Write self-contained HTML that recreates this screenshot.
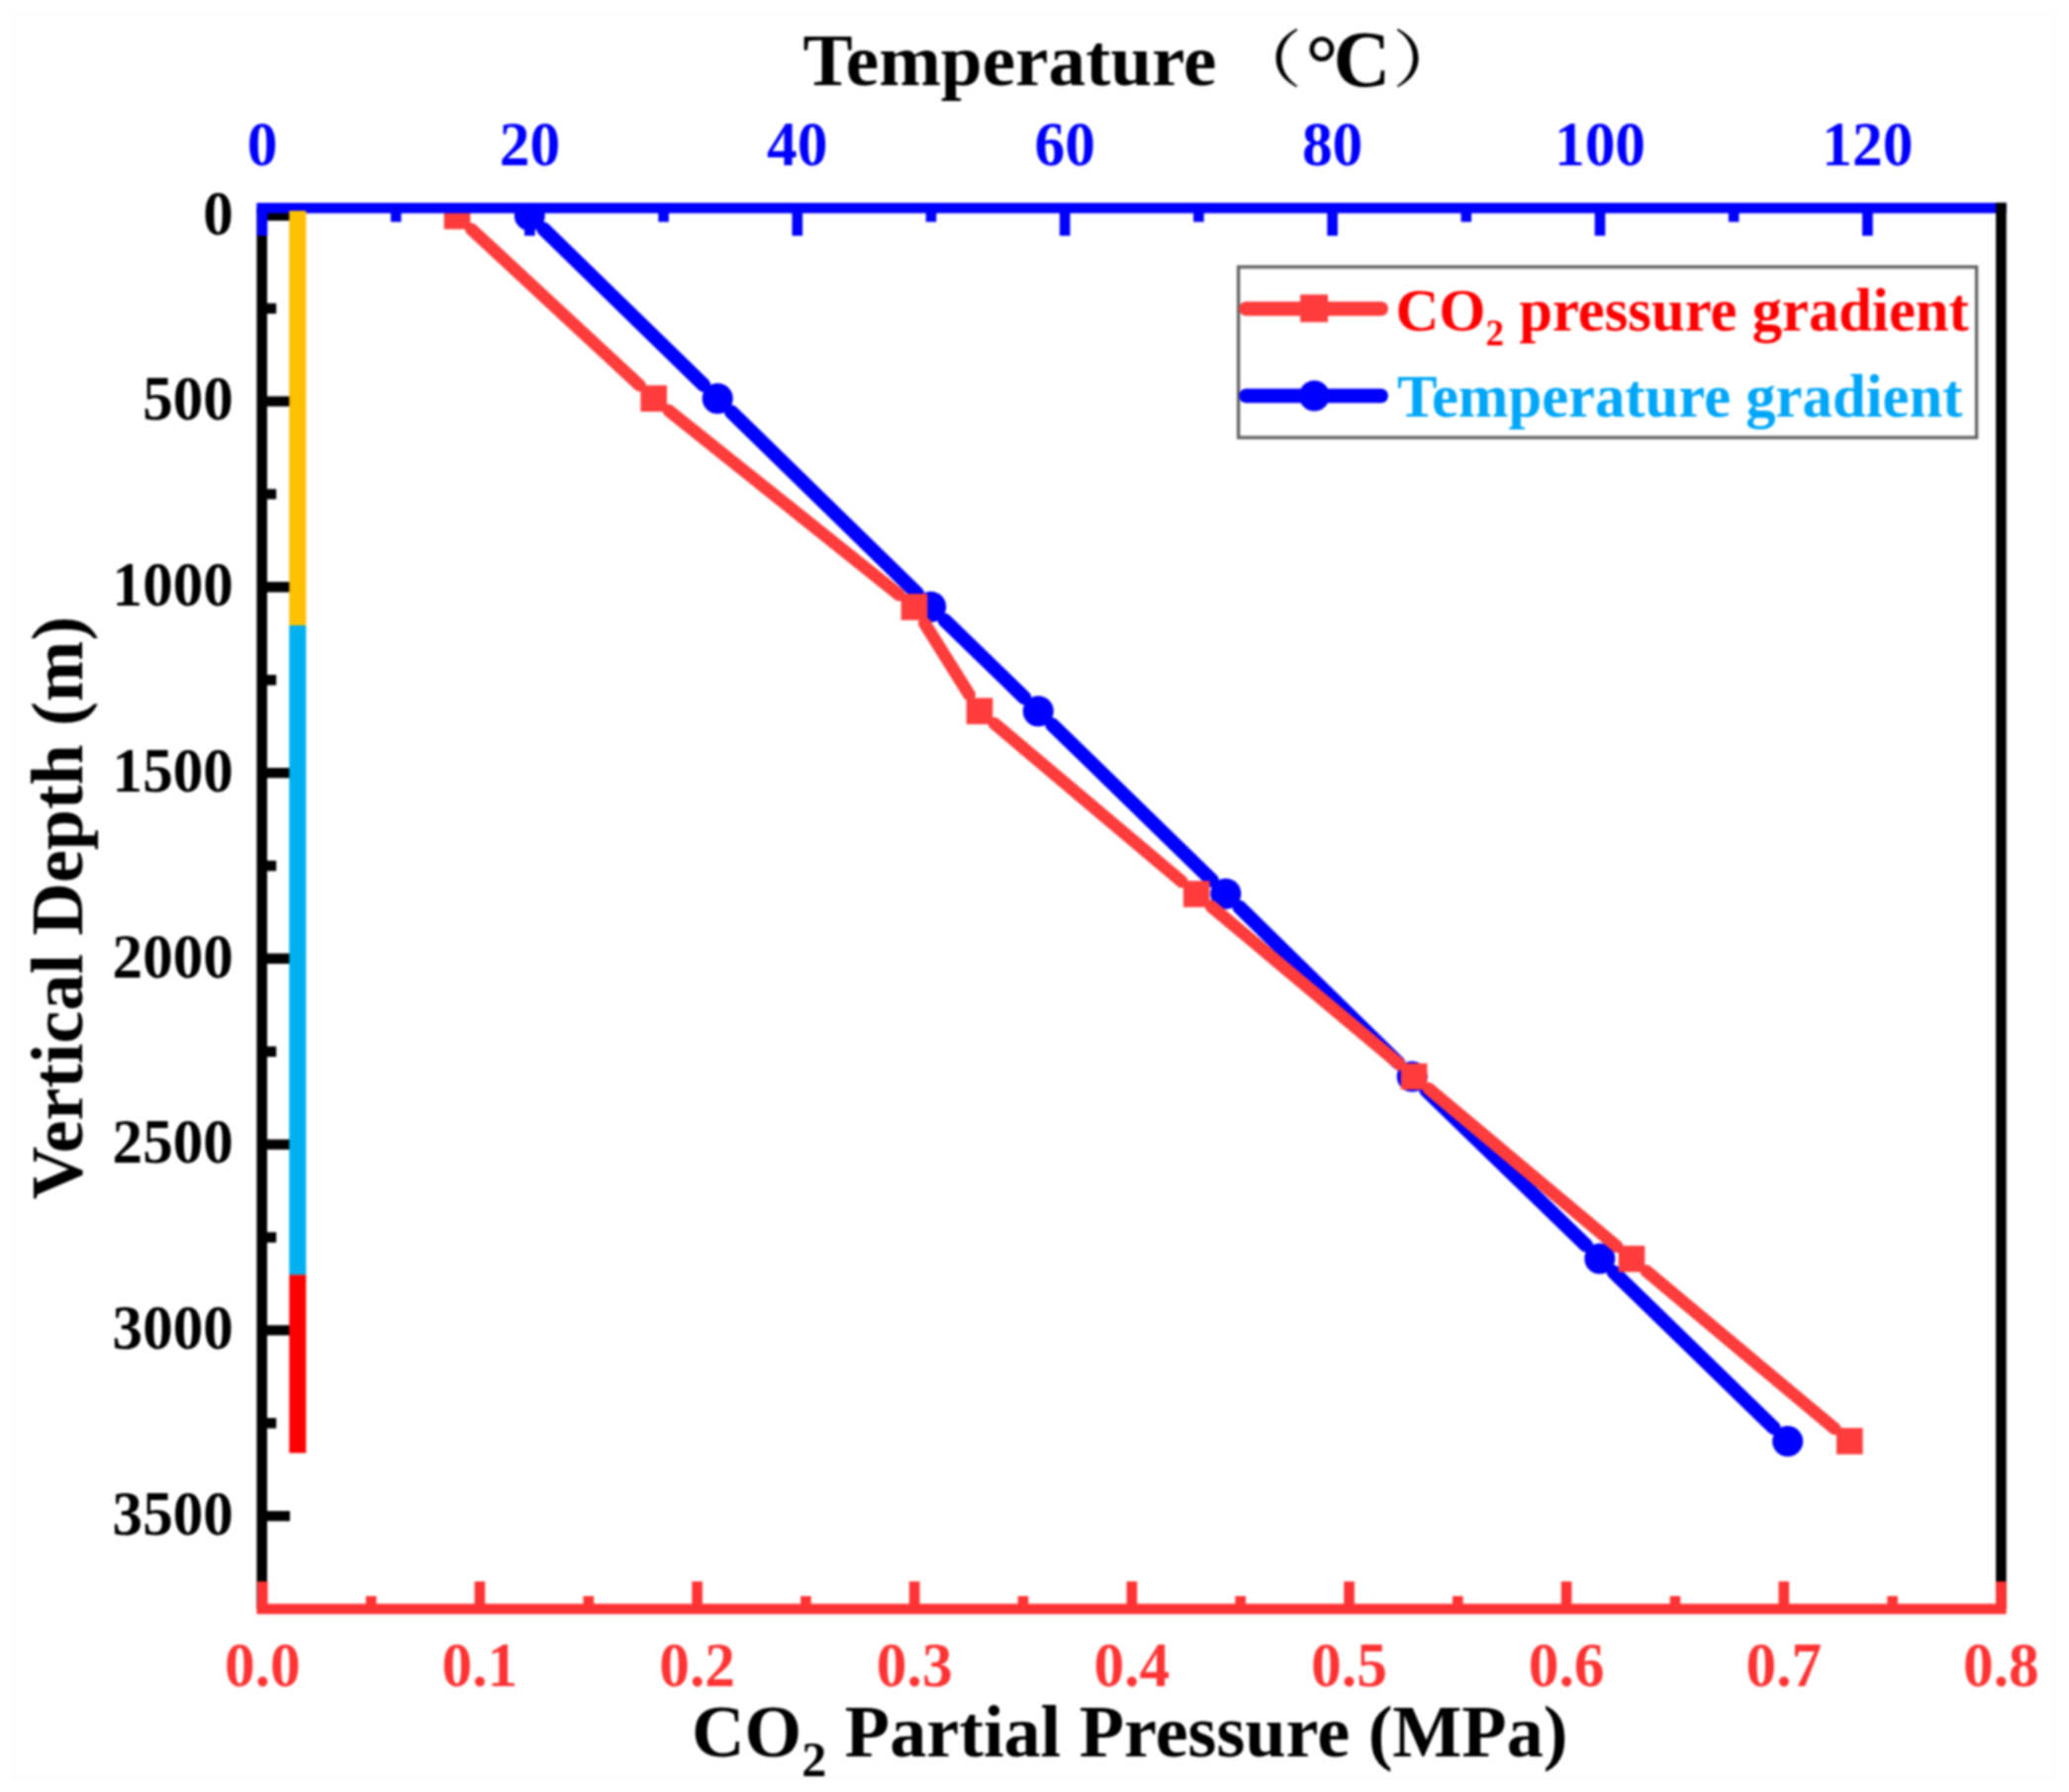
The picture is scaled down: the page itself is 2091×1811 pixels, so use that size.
<!DOCTYPE html>
<html lang="en"><head><meta charset="utf-8"><title>CO2 partial pressure and temperature gradient</title>
<style>html,body{margin:0;padding:0;background:#fff}body{width:2091px;height:1811px;overflow:hidden}svg{display:block;filter:blur(1.1px)}text{font-family:"Liberation Serif","Noto Serif CJK SC",serif;font-weight:bold}.tk{font-size:63px}.lg{font-size:60.7px}.ti{font-size:74px}</style></head><body>
<svg width="2091" height="1811" viewBox="0 0 2091 1811">
<rect width="2091" height="1811" fill="#fff"/>
<rect x="14" y="15" width="2062" height="1782" fill="none" stroke="#fcfcfc" stroke-width="2"/>
<defs><clipPath id="cp"><rect x="264.7" y="210.2" width="1757.7" height="1415.8"/></clipPath></defs>
<g clip-path="url(#cp)">
<path d="M549.3 231.4L711.2 389.1M739.1 416.3L926.8 599.7M954.7 626.9L1035.3 705.1M1063.3 732.3L1224.8 889.6M1252.7 916.9L1413.3 1074.3M1441.2 1101.6L1602.8 1258.4M1630.8 1285.6L1792.7 1443.0" fill="none" stroke="#0000FF" stroke-width="14.2" stroke-linecap="round"/>
<circle cx="535.3" cy="217.8" r="15.5" fill="#0000FF"/>
<circle cx="725.2" cy="402.7" r="15.5" fill="#0000FF"/>
<circle cx="940.7" cy="613.3" r="15.5" fill="#0000FF"/>
<circle cx="1049.3" cy="718.7" r="15.5" fill="#0000FF"/>
<circle cx="1238.8" cy="903.2" r="15.5" fill="#0000FF"/>
<circle cx="1427.2" cy="1088.0" r="15.5" fill="#0000FF"/>
<circle cx="1616.8" cy="1272.0" r="15.5" fill="#0000FF"/>
<circle cx="1806.7" cy="1456.6" r="15.5" fill="#0000FF"/>
<path d="M476.3 231.6L646.4 389.4M675.9 414.9L908.8 601.2M934.4 629.9L979.6 702.1M1004.9 731.2L1194.3 890.9M1224.1 916.0L1414.2 1075.4M1444.0 1100.4L1634.1 1259.7M1664.0 1284.7L1854.3 1443.9" fill="none" stroke="#FF3C3C" stroke-width="12.8" stroke-linecap="round"/>
<rect x="448.7" y="205.0" width="26.6" height="26.6" fill="#FF3C3C"/>
<rect x="647.4" y="389.4" width="26.6" height="26.6" fill="#FF3C3C"/>
<rect x="910.7" y="600.1" width="26.6" height="26.6" fill="#FF3C3C"/>
<rect x="976.7" y="705.3" width="26.6" height="26.6" fill="#FF3C3C"/>
<rect x="1195.9" y="890.2" width="26.6" height="26.6" fill="#FF3C3C"/>
<rect x="1415.8" y="1074.6" width="26.6" height="26.6" fill="#FF3C3C"/>
<rect x="1635.7" y="1258.9" width="26.6" height="26.6" fill="#FF3C3C"/>
<rect x="1856.0" y="1443.1" width="26.6" height="26.6" fill="#FF3C3C"/>
</g>
<g stroke="#000" stroke-width="10.6" fill="none">
<path d="M264.7 210.2V1626.0"/>
<path d="M264.7 217.8H293M264.7 405.6H293M264.7 593.3H293M264.7 781.1H293M264.7 968.8H293M264.7 1156.6H293M264.7 1344.4H293M264.7 1532.1H293M264.7 311.7H279.2M264.7 499.4H279.2M264.7 687.2H279.2M264.7 875.0H279.2M264.7 1062.7H279.2M264.7 1250.5H279.2M264.7 1438.2H279.2" stroke-width="10.4"/>
</g>
<g stroke="#0000FF" stroke-width="10.6" fill="none">
<path d="M259.4 210.2H2027.7"/>
<path d="M265.0 210.2V238.3M535.4 210.2V238.3M805.8 210.2V238.3M1076.2 210.2V238.3M1346.6 210.2V238.3M1617.0 210.2V238.3M1887.4 210.2V238.3M400.2 210.2V224.2M670.6 210.2V224.2M941.0 210.2V224.2M1211.4 210.2V224.2M1481.8 210.2V224.2M1752.2 210.2V224.2"/>
</g>
<path d="M2022.4 204.8V1626.0" stroke="#000" stroke-width="10.6"/>
<g stroke="#FF3333" stroke-width="10.6" fill="none">
<path d="M259.4 1626.0H2027.7"/>
<path d="M265.3 1626.0V1598.3M484.9 1626.0V1598.3M704.6 1626.0V1598.3M924.2 1626.0V1598.3M1143.9 1626.0V1598.3M1363.5 1626.0V1598.3M1583.1 1626.0V1598.3M1802.8 1626.0V1598.3M2022.4 1626.0V1598.3M375.1 1626.0V1613M594.8 1626.0V1613M814.4 1626.0V1613M1034.0 1626.0V1613M1253.7 1626.0V1613M1473.3 1626.0V1613M1693.0 1626.0V1613M1912.6 1626.0V1613"/>
</g>
<rect x="292.3" y="213" width="17" height="419.0" fill="#FFC000"/>
<rect x="292.3" y="632" width="17" height="656.3" fill="#00B0F0"/>
<rect x="292.3" y="1288.3" width="17" height="180.1" fill="#FF0000"/>
<g class="tk" fill="#0000FF" text-anchor="middle">
<text transform="translate(265.0,167) scale(.975,1)">0</text>
<text transform="translate(535.4,167) scale(.975,1)">20</text>
<text transform="translate(805.8,167) scale(.975,1)">40</text>
<text transform="translate(1076.2,167) scale(.975,1)">60</text>
<text transform="translate(1346.6,167) scale(.975,1)">80</text>
<text transform="translate(1617.0,167) scale(.975,1)">100</text>
<text transform="translate(1887.4,167) scale(.975,1)">120</text>
</g>
<g class="tk" fill="#FF3333" text-anchor="middle">
<text transform="translate(265.3,1704) scale(.975,1)">0.0</text>
<text transform="translate(484.9,1704) scale(.975,1)">0.1</text>
<text transform="translate(704.6,1704) scale(.975,1)">0.2</text>
<text transform="translate(924.2,1704) scale(.975,1)">0.3</text>
<text transform="translate(1143.9,1704) scale(.975,1)">0.4</text>
<text transform="translate(1363.5,1704) scale(.975,1)">0.5</text>
<text transform="translate(1583.1,1704) scale(.975,1)">0.6</text>
<text transform="translate(1802.8,1704) scale(.975,1)">0.7</text>
<text transform="translate(2022.4,1704) scale(.975,1)">0.8</text>
</g>
<g class="tk" fill="#000" text-anchor="end">
<text transform="translate(235.8,236.5) scale(.97,1)">0</text>
<text transform="translate(235.8,424.3) scale(.97,1)">500</text>
<text transform="translate(235.8,612.0) scale(.97,1)">1000</text>
<text transform="translate(235.8,799.8) scale(.97,1)">1500</text>
<text transform="translate(235.8,987.5) scale(.97,1)">2000</text>
<text transform="translate(235.8,1175.3) scale(.97,1)">2500</text>
<text transform="translate(235.8,1363.1) scale(.97,1)">3000</text>
<text transform="translate(235.8,1550.8) scale(.97,1)">3500</text>
</g>
<text class="ti" x="811.5" y="86.3" fill="#000" textLength="418" lengthAdjust="spacingAndGlyphs">Temperature</text>
<text class="ti" x="1319.5" y="91.5" fill="#000" style="font-size:82px">°</text><text class="ti" x="1347.5" y="86.8" fill="#000" style="font-size:80px">C</text>
<text transform="translate(1240.5,82) scale(1.2,1)" font-size="63px" style="font-weight:500;font-family:'Noto Serif CJK SC',serif" fill="#000">（</text>
<text transform="translate(1407,82) scale(1.2,1)" font-size="63px" style="font-weight:500;font-family:'Noto Serif CJK SC',serif" fill="#000">）</text>
<text class="ti" x="699" y="1775.4" fill="#000" textLength="885.5" lengthAdjust="spacingAndGlyphs">CO<tspan font-size="50px" dy="20">2</tspan><tspan dy="-20"> Partial Pressure (MPa)</tspan></text>
<text class="ti" transform="translate(82.7,1212) rotate(-90)" fill="#000">Vertical Depth (m)</text>
<rect x="1251.6" y="269.8" width="746" height="172.4" fill="#fff" stroke="#666" stroke-width="3.4"/>
<path d="M1259.5 312H1395.7" stroke="#FF3C3C" stroke-width="14.5" stroke-linecap="round"/>
<rect x="1314.1" y="297.6" width="28" height="28" fill="#FF3C3C"/>
<path d="M1259.5 400H1395.7" stroke="#0000FF" stroke-width="14.5" stroke-linecap="round"/>
<circle cx="1328.3" cy="400" r="15.4" fill="#0000FF"/>
<text class="lg" x="1410.5" y="334.3" fill="#FF0000">CO<tspan font-size="37px" dy="14.5">2</tspan><tspan dy="-14.5"> pressure gradient</tspan></text>
<text class="lg" x="1412" y="420.8" fill="#00A6F8">Temperature gradient</text>
</svg></body></html>
